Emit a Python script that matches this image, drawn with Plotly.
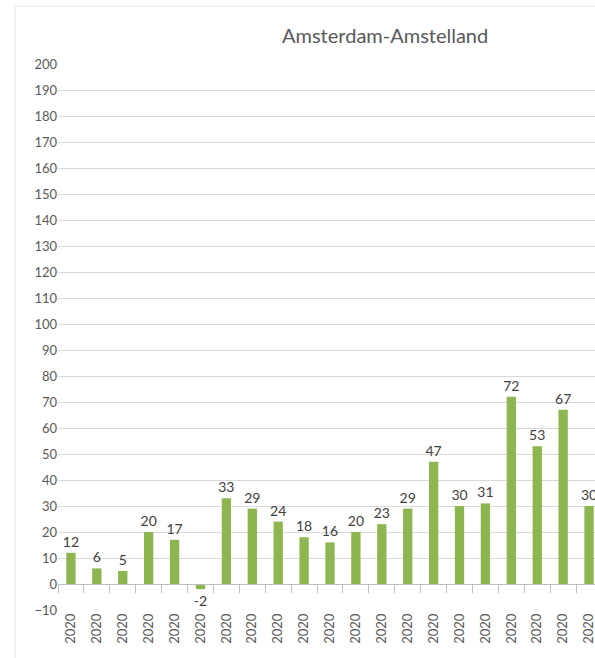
import plotly.graph_objects as go

positions = list(range(21))
tick_labels = ["2020", "2020", "2020", "2020", "2020", "2020", "2020",
               "2020", "2020", "2020", "2020", "2020", "2020", "2020",
               "2020", "2020", "2020", "2020", "2020", "2020", "2020"]
values = [12, 6, 5, 20, 17, -2, 33, 29, 24, 18, 16, 20, 23, 29, 47, 30, 31, 72, 53, 67, 30]
title_text = "Amsterdam-Amstelland"

FONT = "Lato"
GREY = "#595959"
XR = [-0.5, 20.23]

fig = go.Figure()
fig.add_trace(go.Bar(
    x=positions, y=values, width=0.36,
    marker=dict(color="#8DB650", line=dict(width=0)),
    text=[str(v) for v in values], textposition="outside", constraintext="none",
    textfont=dict(family=FONT, size=14, color="#404040"),
    cliponaxis=True, showlegend=False, hoverinfo="skip",
))
# invisible trace to activate the zero-crossing axis
fig.add_trace(go.Scatter(x=[positions[0]], y=[0], xaxis="x2", mode="markers",
                         marker=dict(opacity=0), showlegend=False, hoverinfo="skip"))

fig.update_layout(
    width=595, height=658,
    margin=dict(l=58, r=0, t=64, b=48),
    paper_bgcolor="white", plot_bgcolor="white",
    font=dict(family=FONT, color=GREY),
    xaxis=dict(range=XR, tickmode="array", tickvals=positions, ticktext=tick_labels,
               tickangle=-90, ticks="", showgrid=False, zeroline=False, showline=False,
               ticklabeloverflow="allow",
               tickfont=dict(family=FONT, size=13, color=GREY)),
    xaxis2=dict(range=XR, overlaying="x", anchor="free", position=10/210,
                tickmode="array", tickvals=[p - 0.5 for p in positions],
                ticks="outside", ticklen=8, tickcolor="#bfbfbf", tickwidth=1,
                showticklabels=False, showgrid=False, zeroline=False,
                showline=True, linecolor="#bfbfbf", linewidth=1),
    yaxis=dict(range=[-10, 200], dtick=10, tick0=0, showgrid=True, gridcolor="#d9d9d9",
               gridwidth=1, zeroline=False, showline=False, ticks="",
               tickfont=dict(family=FONT, size=13, color=GREY)),
    bargap=0.6,
    annotations=[dict(text=title_text, xref="paper", yref="paper",
                      x=(385 - 58) / 537, y=1 + (64 - 35) / 546, xanchor="center", yanchor="middle",
                      showarrow=False, font=dict(family=FONT, size=20, color=GREY))],
    shapes=[dict(type="rect", xref="paper", yref="paper",
                 x0=-(58 - 15) / 537, x1=1.2, y0=-0.2, y1=1 + (64 - 6) / 546,
                 line=dict(color="#e6e6e6", width=1), layer="below")],
)

fig.write_html("out.html", config={"displayModeBar": False},
               post_script="document.body.style.margin='0';document.body.style.overflow='hidden';")
